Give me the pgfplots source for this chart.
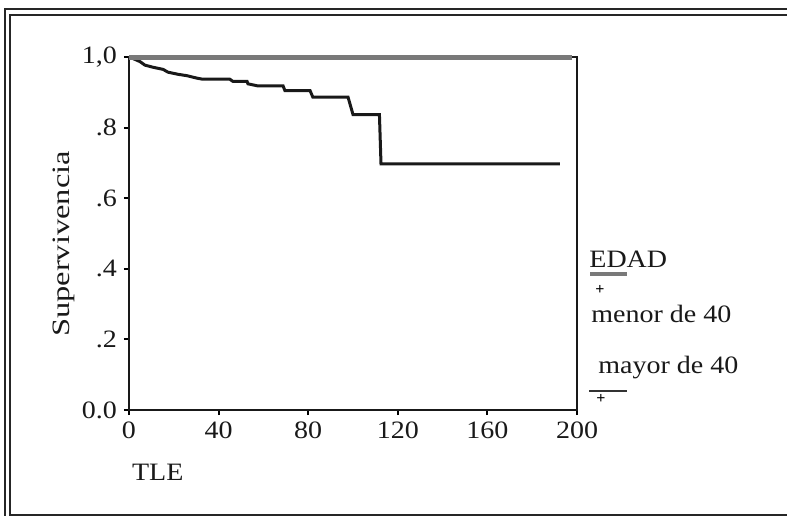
\documentclass[border=0pt]{standalone}
\usepackage{fontspec}
\setmainfont{Liberation Serif}
\usepackage{pgfplots}
\pgfplotsset{compat=1.18}
\usepackage{graphicx}
\newcommand{\sx}[1]{\scalebox{1.12}[1]{#1}}
\begin{document}
\begin{tikzpicture}
\path[use as bounding box] (-64.5pt,-53pt) rectangle (329pt,205pt);
\begin{axis}[
  at={(0pt,0pt)}, anchor=south west,
  scale only axis, width=224pt, height=176.5pt,
  xmin=0, xmax=200, ymin=0, ymax=1,
  clip=false,
  axis line style={line width=1pt, black!90},
  tick align=outside, major tick length=2.5pt,
  tick style={line width=1pt, black},
  xtick pos=bottom, ytick pos=left,
  xtick={0,40,80,120,160,200},
  xticklabels={\sx{0},\sx{40},\sx{80},\sx{120},\sx{160},\sx{200}},
  ytick={0,0.2,0.4,0.6,0.8,1},
  yticklabels={\sx{0.0},\sx{.2},\sx{.4},\sx{.6},\sx{.8},\sx{1,0}},
  ticklabel style={font=\fontsize{12.5}{14}\selectfont, text=black!90},
]
\addplot[line width=1.5pt, black!90] coordinates {
(0,1.0) (2,0.995) (4.9,0.987) (7.1,0.977) (10.7,0.971) (15.2,0.965)
(17.4,0.957) (21.9,0.951) (25.9,0.947) (30.4,0.940) (33,0.937) (45,0.937)
(46.4,0.931) (52.7,0.931) (53.1,0.924) (57.6,0.918) (68.8,0.918)
(69.6,0.905) (80.8,0.905) (82.1,0.886) (97.8,0.886) (100,0.837)
(111.8,0.837) (112.5,0.697) (192.4,0.697)
};
\addplot[line width=2.5pt, gray!95!black] coordinates {(0,1) (197.8,1)};
\end{axis}
% axis titles
\node[font=\fontsize{12.5}{14}\selectfont, anchor=base west, text=black!90] at (-2pt,-35pt) {\sx{TLE}};
\node[font=\fontsize{12.5}{14}\selectfont, rotate=90, text=black!90] at (-32.5pt,83pt) {\scalebox{1.3}[1]{Supervivencia}};
% legend
\node[font=\fontsize{12.5}{14}\selectfont, anchor=base west, inner sep=0pt, text=black!90] at (230pt,71.5pt) {\sx{EDAD}};
\draw[line width=2pt, gray!95!black] (230.5pt,68pt) -- (249pt,68pt);
\node[font=\fontsize{8}{9}\selectfont\bfseries, inner sep=0pt] at (235.5pt,60pt) {+};
\node[font=\fontsize{12.5}{14}\selectfont, anchor=base west, inner sep=0pt, text=black!90] at (231pt,44pt) {\sx{menor de 40}};
\node[font=\fontsize{12.5}{14}\selectfont, anchor=base west, inner sep=0pt, text=black!90] at (234.5pt,18.5pt) {\sx{mayor de 40}};
\draw[line width=0.75pt, black!80] (230pt,9.6pt) -- (249pt,9.6pt);
\node[font=\fontsize{8}{9}\selectfont\bfseries, inner sep=0pt] at (236pt,5.5pt) {+};
% frame
\draw[line width=1pt, black!85] (329pt,200.75pt) -- (-62pt,200.75pt) -- (-62pt,-53pt);
\draw[line width=1pt, black!85] (329pt,197.75pt) -- (-59.25pt,197.75pt) -- (-59.25pt,-52.25pt) -- (329pt,-52.25pt);
\end{tikzpicture}
\end{document}
